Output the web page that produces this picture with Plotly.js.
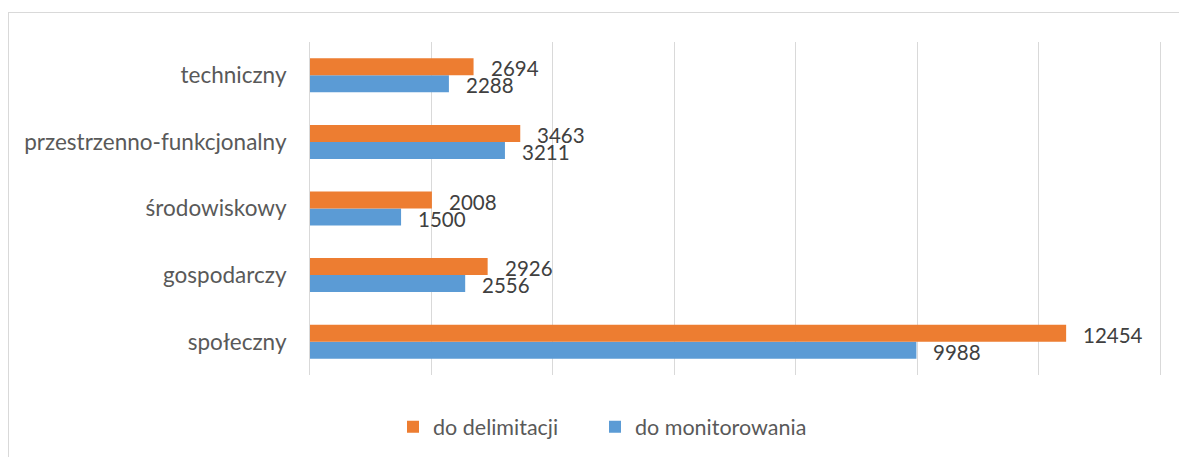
<!DOCTYPE html>
<html>
<head>
<meta charset="utf-8">
<script src="https://cdn.plot.ly/plotly-3.0.1.min.js"></script>
<style>
  html, body { margin: 0; padding: 0; background: #fff; }
  #chart { width: 1179px; height: 457px; }
  #frame { position: absolute; left: 8px; top: 12px; width: 1300px; height: 600px;
           border: 1px solid #d9d9d9; pointer-events: none; }
</style>
</head>
<body>
<div id="chart"></div>
<div id="frame"></div>
<script>
const categories = ["społeczny", "gospodarczy", "środowiskowy", "przestrzenno-funkcjonalny", "techniczny"];
const delimitacji = [12454, 2926, 2008, 3463, 2694];
const monitorowania = [9988, 2556, 1500, 3211, 2288];
const seriesNames = ["do delimitacji", "do monitorowania"];
const orange = "#ED7D31", blue = "#5B9BD5";

const traces = [
  { type: "bar", orientation: "h", name: seriesNames[1], y: categories, x: monitorowania,
    marker: { color: blue }, legend: "legend2", hoverinfo: "x+name" },
  { type: "bar", orientation: "h", name: seriesNames[0], y: categories, x: delimitacji,
    marker: { color: orange }, legend: "legend", hoverinfo: "x+name" }
];

const annFont = { family: "Lato, 'Open Sans', sans-serif", size: 20.5, color: "#404040" };
const annotations = [];
categories.forEach((c, i) => {
  annotations.push({ x: delimitacji[i], y: c, text: String(delimitacji[i]), showarrow: false,
    xanchor: "left", yanchor: "middle", xshift: 15, yshift: 7, font: annFont });
  annotations.push({ x: monitorowania[i], y: c, text: String(monitorowania[i]), showarrow: false,
    xanchor: "left", yanchor: "middle", xshift: 15, yshift: -10, font: annFont });
});

const legendBase = { orientation: "h", xref: "container", yref: "container", y: 0.066,
                     xanchor: "left", yanchor: "middle", font: { size: 21.5, color: "#595959" },
                     bgcolor: "rgba(0,0,0,0)" };

const layout = {
  width: 1179, height: 457,
  margin: { l: 310, r: 19, t: 42, b: 82 },
  paper_bgcolor: "#fff", plot_bgcolor: "#fff",
  barmode: "group", bargap: 0.49, bargroupgap: 0,
  font: { family: "Lato, 'Open Sans', sans-serif", color: "#595959", size: 20 },
  xaxis: { range: [0, 14000], dtick: 2000, tick0: 0, showgrid: true, gridcolor: "#d9d9d9",
           gridwidth: 1, zeroline: false, showline: false, showticklabels: false, fixedrange: true },
  yaxis: { type: "category", categoryorder: "array", categoryarray: categories,
           showgrid: false, zeroline: false, showline: true, mirror: true, linecolor: "#d9d9d9",
           linewidth: 1, ticks: "",
           ticklabelstandoff: 18, tickfont: { size: 22.5, color: "#595959" }, fixedrange: true },
  showlegend: true,
  legend: Object.assign({}, legendBase, { x: 393 / 1179 }),
  legend2: Object.assign({}, legendBase, { x: 595 / 1179 }),
  annotations: annotations
};

Plotly.newPlot("chart", traces, layout, { displayModeBar: false, staticPlot: true });
</script>
</body>
</html>
